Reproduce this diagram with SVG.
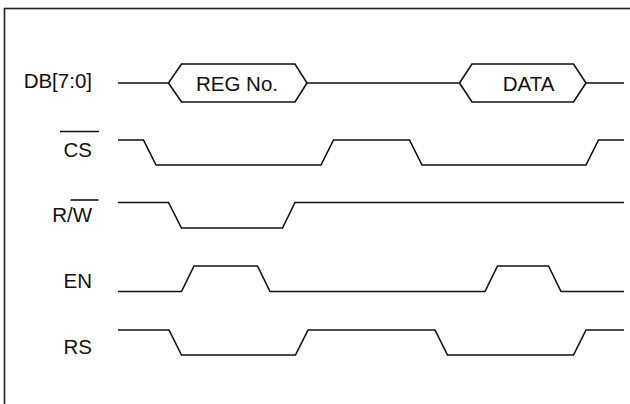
<svg xmlns="http://www.w3.org/2000/svg" width="630" height="404" viewBox="0 0 630 404">
<style>
.w{fill:none;stroke:#111;stroke-width:1.6;stroke-linejoin:miter}
.t{font-family:"Liberation Sans",Arial,sans-serif;font-size:20.5px;fill:#111}
.lbl{text-anchor:end}
.mid{text-anchor:middle}
</style>
<rect x="4.5" y="8.5" width="640" height="420" fill="none" stroke="#222" stroke-width="1.6"/>
<g id="db">
<text class="t lbl" x="92" y="88">DB[7:0]</text>
<path class="w" d="M118,83 H168.5 L181.5,64 H295 L307,83 L295,102 H181.5 L168.5,83"/>
<path class="w" d="M307,83 H459.5 L472,64 H573.5 L586,83 L573.5,102 H472 L459.5,83 M586,83 H624"/>
<text class="t mid" x="237" y="90.5">REG No.</text>
<text class="t mid" x="528.5" y="90.5">DATA</text>
</g>
<g id="cs">
<text class="t lbl" x="92" y="157">CS</text>
<line class="w" x1="60" y1="131.5" x2="99" y2="131.5"/>
<path class="w" d="M118,140 H143.5 L156,165 H321 L333.5,140 H409.5 L422,165 H586 L598.5,140 H624"/>
</g>
<g id="rw">
<text class="t lbl" x="92" y="222">R/W</text>
<line class="w" x1="70.5" y1="200" x2="98.5" y2="200"/>
<path class="w" d="M118,202.5 H168.5 L181.5,228 H282.5 L295,202.5 H624"/>
</g>
<g id="en">
<text class="t lbl" x="92" y="287.5">EN</text>
<path class="w" d="M118,291.5 H181.5 L194,266 H257.5 L270,291.5 H485 L497.5,266 H548.5 L561,291.5 H624"/>
</g>
<g id="rs">
<text class="t lbl" x="92" y="353.5">RS</text>
<path class="w" d="M118,330 H169 L181.5,355 H295.5 L308,330 H435 L447.5,355 H573.5 L586,330 H624"/>
</g>
</svg>
